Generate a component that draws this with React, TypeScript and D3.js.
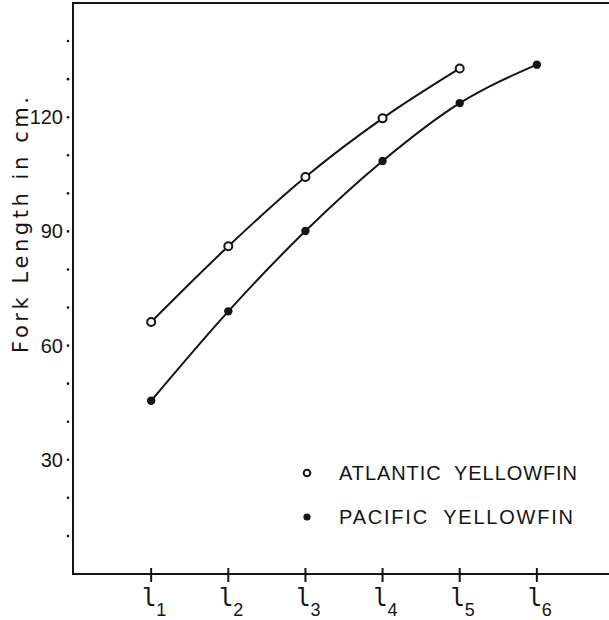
import React, { useEffect, useRef } from 'react';
import * as d3 from 'd3';

// growth stage labels (l1..l6)
const stages = ['1', '2', '3', '4', '5', '6'];
// fork length (cm)
const atlantic = [66.2, 86.1, 104.3, 119.7, 132.8];
const pacific = [45.5, 69.0, 90.1, 108.5, 123.7, 133.8];
const yLabels = [30, 60, 90, 120];
const yMinor = [10, 20, 40, 50, 70, 80, 100, 110, 130, 140];
const legendItems = [
  { name: 'ATLANTIC  YELLOWFIN', filled: false },
  { name: 'PACIFIC  YELLOWFIN', filled: true },
];

const W = 609;
const H = 620;
const INK = '#141414';

const App = () => {
  const svgRef = useRef(null);

  useEffect(() => {
    const svg = d3.select(svgRef.current);
    svg.selectAll('*').remove();

    const x = d3.scaleLinear().domain([0, 7]).range([74, 614]);
    const y = d3.scaleLinear().domain([0, 150]).range([574, 3]);

    svg.append('rect').attr('width', W).attr('height', H).attr('fill', '#fff');

    // frame: left axis, bottom axis, top edge
    svg.append('line').attr('x1', 73).attr('x2', 73).attr('y1', 3).attr('y2', y(0))
      .attr('stroke', INK).attr('stroke-width', 2);
    svg.append('line').attr('x1', 72).attr('x2', W).attr('y1', y(0)).attr('y2', y(0))
      .attr('stroke', INK).attr('stroke-width', 2);
    svg.append('line').attr('x1', 72).attr('x2', W).attr('y1', 3).attr('y2', 3)
      .attr('stroke', INK).attr('stroke-width', 2);

    // y tick dots + labels
    svg.append('g').selectAll('circle')
      .data([...yMinor, ...yLabels])
      .join('circle')
      .attr('cx', 68).attr('cy', d => y(d)).attr('r', 1.3).attr('fill', INK);

    svg.append('g').selectAll('text')
      .data(yLabels)
      .join('text')
      .attr('x', 63).attr('y', d => y(d) + 7)
      .attr('text-anchor', 'end')
      .attr('font-family', 'Liberation Sans, Arial, sans-serif')
      .attr('font-size', 20)
      .attr('fill', INK)
      .text(d => d);

    // y title
    svg.append('text')
      .attr('transform', `translate(28, 353) rotate(-90)`)
      .attr('font-family', 'DejaVu Sans, sans-serif')
      .attr('font-size', 21)
      .attr('textLength', 256)
      .attr('lengthAdjust', 'spacing')
      .attr('fill', INK)
      .text('Fork Length in cm.');

    // x ticks + labels (l with subscript)
    const xt = svg.append('g');
    stages.forEach((s, i) => {
      const cx = x(i + 1);
      xt.append('line').attr('x1', cx).attr('x2', cx).attr('y1', 568).attr('y2', 582)
        .attr('stroke', INK).attr('stroke-width', 2);
      xt.append('text')
        .attr('x', cx - 2).attr('y', 606)
        .attr('text-anchor', 'middle')
        .attr('font-family', 'DejaVu Sans Mono, monospace')
        .attr('font-size', 24)
        .attr('fill', INK)
        .text('l');
      xt.append('text')
        .attr('x', cx + 5).attr('y', 616)
        .attr('font-family', 'Liberation Sans, Arial, sans-serif')
        .attr('font-size', 18)
        .attr('fill', INK)
        .text(s);
    });

    const line = d3.line().x(d => x(d[0])).y(d => y(d[1])).curve(d3.curveMonotoneX);

    const atl = atlantic.map((v, i) => [i + 1, v]);
    const pac = pacific.map((v, i) => [i + 1, v]);

    [atl, pac].forEach(pts => {
      svg.append('path').attr('d', line(pts)).attr('fill', 'none')
        .attr('stroke', INK).attr('stroke-width', 2);
    });

    svg.append('g').selectAll('circle')
      .data(atl)
      .join('circle')
      .attr('cx', d => x(d[0])).attr('cy', d => y(d[1])).attr('r', 4)
      .attr('fill', '#fff').attr('stroke', INK).attr('stroke-width', 2);

    svg.append('g').selectAll('circle')
      .data(pac)
      .join('circle')
      .attr('cx', d => x(d[0])).attr('cy', d => y(d[1])).attr('r', 4.2)
      .attr('fill', INK);

    // legend
    const lg = svg.append('g');
    legendItems.forEach((d, i) => {
      const ly = 473 + i * 44;
      lg.append('circle').attr('cx', 307).attr('cy', ly).attr('r', d.filled ? 3.6 : 3.3)
        .attr('fill', d.filled ? INK : '#fff').attr('stroke', INK).attr('stroke-width', d.filled ? 0 : 2);
      lg.append('text')
        .attr('x', 339).attr('y', ly + 7)
        .attr('font-family', 'Liberation Sans, Arial, sans-serif')
        .attr('font-size', 20)
        .attr('textLength', i === 0 ? 238 : 234)
        .attr('lengthAdjust', 'spacing')
        .attr('fill', INK)
        .style('white-space', 'pre')
        .text(d.name);
    });
  }, []);

  return (
    <svg ref={svgRef} width={W} height={H} style={{ position: 'absolute', left: 0, top: 0 }} />
  );
};

export default App;
